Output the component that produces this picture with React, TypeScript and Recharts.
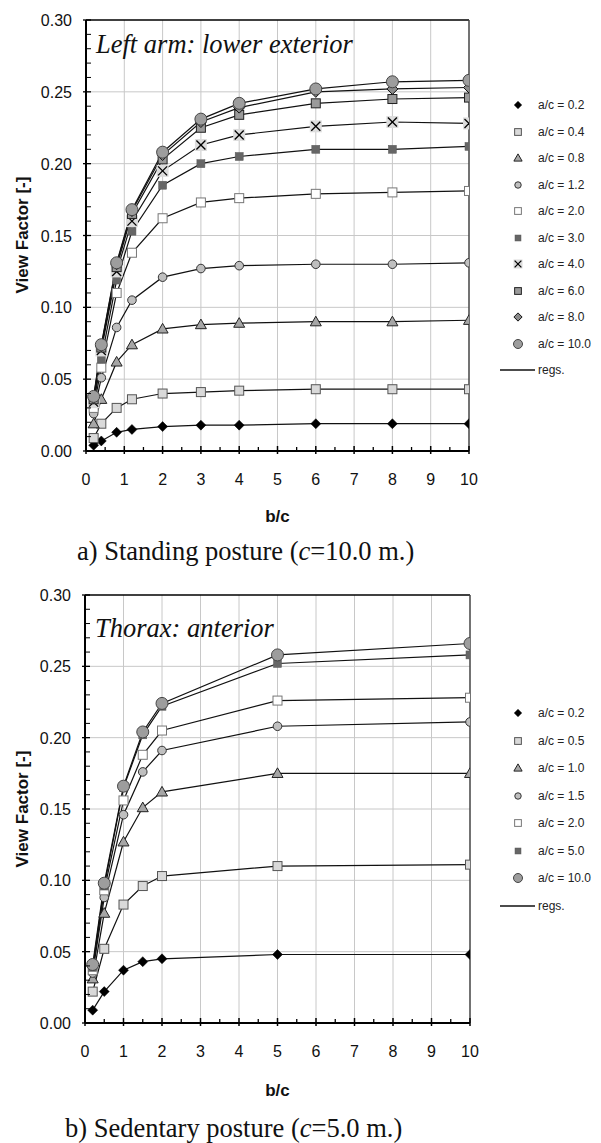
import React from 'react';
import { LineChart, Line, XAxis, YAxis, CartesianGrid, ReferenceLine } from 'recharts';

// ---------- Data: a) Standing posture ----------
const standingBC = [0.2, 0.4, 0.8, 1.2, 2, 3, 4, 6, 8, 10];
const stand_02 = [0.004, 0.007, 0.013, 0.015, 0.017, 0.018, 0.018, 0.019, 0.019, 0.019];
const stand_04 = [0.009, 0.019, 0.030, 0.036, 0.040, 0.041, 0.042, 0.043, 0.043, 0.043];
const stand_08 = [0.019, 0.036, 0.062, 0.074, 0.085, 0.088, 0.089, 0.090, 0.090, 0.091];
const stand_12 = [0.026, 0.051, 0.086, 0.105, 0.121, 0.127, 0.129, 0.130, 0.130, 0.131];
const stand_20 = [0.030, 0.058, 0.110, 0.138, 0.162, 0.173, 0.176, 0.179, 0.180, 0.181];
const stand_30 = [0.033, 0.064, 0.119, 0.153, 0.185, 0.200, 0.205, 0.210, 0.210, 0.212];
const stand_40 = [0.034, 0.070, 0.125, 0.160, 0.195, 0.213, 0.220, 0.226, 0.229, 0.228];
const stand_60 = [0.036, 0.072, 0.128, 0.165, 0.203, 0.225, 0.234, 0.242, 0.245, 0.246];
const stand_80 = [0.037, 0.073, 0.130, 0.167, 0.206, 0.229, 0.239, 0.250, 0.252, 0.253];
const stand_100 = [0.038, 0.074, 0.131, 0.168, 0.208, 0.231, 0.242, 0.252, 0.257, 0.258];
const standingLabels = ['a/c = 0.2', 'a/c = 0.4', 'a/c = 0.8', 'a/c = 1.2', 'a/c = 2.0', 'a/c = 3.0', 'a/c = 4.0', 'a/c = 6.0', 'a/c = 8.0', 'a/c = 10.0'];
const standingTitle = 'Left arm: lower exterior';

// ---------- Data: b) Sedentary posture ----------
const sedentaryBC = [0.2, 0.5, 1, 1.5, 2, 5, 10];
const sed_02 = [0.009, 0.022, 0.037, 0.043, 0.045, 0.048, 0.048];
const sed_05 = [0.022, 0.052, 0.083, 0.096, 0.103, 0.110, 0.111];
const sed_10 = [0.031, 0.077, 0.127, 0.151, 0.162, 0.175, 0.175];
const sed_15 = [0.035, 0.088, 0.146, 0.176, 0.191, 0.208, 0.211];
const sed_20 = [0.037, 0.093, 0.156, 0.188, 0.205, 0.226, 0.228];
const sed_50 = [0.039, 0.096, 0.165, 0.202, 0.222, 0.252, 0.258];
const sed_100 = [0.041, 0.098, 0.166, 0.204, 0.224, 0.258, 0.266];
const sedentaryLabels = ['a/c = 0.2', 'a/c = 0.5', 'a/c = 1.0', 'a/c = 1.5', 'a/c = 2.0', 'a/c = 5.0', 'a/c = 10.0'];
const sedentaryTitle = 'Thorax: anterior';

// ---------- Axis ticks ----------
const xAllTicks = [0, 0.5, 1, 1.5, 2, 2.5, 3, 3.5, 4, 4.5, 5, 5.5, 6, 6.5, 7, 7.5, 8, 8.5, 9, 9.5, 10];
const yAllTicks = Array.from({ length: 31 }, (_, i) => i / 100);
const gridX = [1, 2, 3, 4, 5, 6, 7, 8, 9];
const gridY = [0.05, 0.1, 0.15, 0.2, 0.25];

type Kind =
  | 'diamondBlack' | 'squareLight' | 'triangle' | 'circleSmall' | 'squareWhite'
  | 'squareDark' | 'cross' | 'squareMid' | 'diamondGray' | 'circleBig';

const standingKinds: Kind[] = ['diamondBlack', 'squareLight', 'triangle', 'circleSmall', 'squareWhite', 'squareDark', 'cross', 'squareMid', 'diamondGray', 'circleBig'];
const sedentaryKinds: Kind[] = ['diamondBlack', 'squareLight', 'triangle', 'circleSmall', 'squareWhite', 'squareDark', 'circleBig'];

const standingSeries = [stand_02, stand_04, stand_08, stand_12, stand_20, stand_30, stand_40, stand_60, stand_80, stand_100];
const sedentarySeries = [sed_02, sed_05, sed_10, sed_15, sed_20, sed_50, sed_100];

const SANS = '"Liberation Sans", Arial, sans-serif';
const SERIF = '"Liberation Serif", "Times New Roman", serif';

function Marker({ kind, cx, cy, s = 1 }: { kind: Kind; cx: number; cy: number; s?: number }) {
  if (cx == null || cy == null || isNaN(cx) || isNaN(cy)) return <g />;
  switch (kind) {
    case 'diamondBlack': {
      const r = 5 * s;
      return <polygon points={`${cx},${cy - r} ${cx + r},${cy} ${cx},${cy + r} ${cx - r},${cy}`} fill="#000" stroke="#000" strokeWidth={0.5} />;
    }
    case 'squareLight': {
      const h = 4.5 * s;
      return <rect x={cx - h} y={cy - h} width={2 * h} height={2 * h} fill="#d9d9d9" stroke="#555" strokeWidth={1} />;
    }
    case 'triangle': {
      const r = 5.5 * s;
      return <polygon points={`${cx},${cy - r} ${cx + r},${cy + r * 0.75} ${cx - r},${cy + r * 0.75}`} fill="#a6a6a6" stroke="#222" strokeWidth={1} />;
    }
    case 'circleSmall':
      return <circle cx={cx} cy={cy} r={4.3 * s} fill="#bfbfbf" stroke="#333" strokeWidth={1} />;
    case 'squareWhite': {
      const h = 4.5 * s;
      return <rect x={cx - h} y={cy - h} width={2 * h} height={2 * h} fill="#fff" stroke="#777" strokeWidth={1} />;
    }
    case 'squareDark': {
      const h = 4 * s;
      return <rect x={cx - h} y={cy - h} width={2 * h} height={2 * h} fill="#666" stroke="#5a5a5a" strokeWidth={0.5} />;
    }
    case 'cross': {
      const h = 6 * s;
      const r = 4.5 * s;
      return (
        <g>
          <rect x={cx - h} y={cy - h} width={2 * h} height={2 * h} fill="#dcdcdc" />
          <line x1={cx - r} y1={cy - r} x2={cx + r} y2={cy + r} stroke="#000" strokeWidth={1.3} />
          <line x1={cx - r} y1={cy + r} x2={cx + r} y2={cy - r} stroke="#000" strokeWidth={1.3} />
        </g>
      );
    }
    case 'squareMid': {
      const h = 4.5 * s;
      return <rect x={cx - h} y={cy - h} width={2 * h} height={2 * h} fill="#9a9a9a" stroke="#222" strokeWidth={1} />;
    }
    case 'diamondGray': {
      const r = 5.5 * s;
      return <polygon points={`${cx},${cy - r} ${cx + r},${cy} ${cx},${cy + r} ${cx - r},${cy}`} fill="#8a8a8a" stroke="#111" strokeWidth={1} />;
    }
    case 'circleBig':
      return <circle cx={cx} cy={cy} r={6 * s} fill="#9d9d9d" stroke="#444" strokeWidth={1} />;
  }
  return <g />;
}

function XTick(props: any) {
  const { x, y, payload } = props;
  const v = payload.value;
  const major = Math.abs(v - Math.round(v)) < 1e-6;
  return (
    <g>
      {major ? (
        <>
          <line x1={x} x2={x} y1={y - 5} y2={y + 3} stroke="#000" strokeWidth={1.5} />
          <text x={x} y={y + 34} textAnchor="middle" fontSize={16} fontFamily={SANS} fill="#111">{String(v)}</text>
        </>
      ) : (
        <line x1={x} x2={x} y1={y - 4} y2={y} stroke="#000" strokeWidth={1.3} />
      )}
    </g>
  );
}

function YTick(props: any) {
  const { x, y, payload } = props;
  const v = payload.value;
  const major = Math.abs(v * 20 - Math.round(v * 20)) < 1e-6;
  return (
    <g>
      {major ? (
        <>
          <line x1={x - 3} x2={x + 5} y1={y} y2={y} stroke="#000" strokeWidth={1.3} />
          <text x={x - 14} y={y + 6} textAnchor="end" fontSize={16} fontFamily={SANS} fill="#111">{v.toFixed(2)}</text>
        </>
      ) : (
        <line x1={x} x2={x + 5} y1={y} y2={y} stroke="#000" strokeWidth={1} />
      )}
    </g>
  );
}

function Chart({ bc, series, kinds, top, yAxisWidth, marginRight, plotHeight }: {
  bc: number[]; series: number[][]; kinds: Kind[]; top: number; yAxisWidth: number; marginRight: number; plotHeight: number;
}) {
  const data = bc.map((b, i) => {
    const row: any = { bc: b };
    series.forEach((s, k) => { row['s' + k] = s[i]; });
    return row;
  });
  return (
    <div style={{ position: 'absolute', left: 0, top }}>
      <LineChart width={601} height={20 + plotHeight + 49} data={data} margin={{ top: 20, right: marginRight, bottom: 0, left: 0 }}>
        <CartesianGrid stroke="#c8c8c8" strokeWidth={1} horizontalValues={gridY} verticalValues={gridX} />
        <XAxis
          dataKey="bc" type="number" domain={[0, 10]} ticks={xAllTicks} interval={0}
          height={49} tickSize={0} tickMargin={0} tickLine={false}
          axisLine={{ stroke: '#000', strokeWidth: 2 }} tick={<XTick />} allowDataOverflow
        />
        <YAxis
          type="number" domain={[0, 0.3]} ticks={yAllTicks} interval={0}
          width={yAxisWidth} tickSize={0} tickMargin={0} tickLine={false}
          axisLine={{ stroke: '#000', strokeWidth: 2 }} tick={<YTick />} allowDataOverflow
        />
        <ReferenceLine y={0.3} stroke="#000" strokeWidth={1.5} />
        <ReferenceLine x={10} stroke="#444" strokeWidth={1.5} />
        {series.map((_, k) => (
          <Line
            key={'s' + k}
            dataKey={'s' + k}
            type="linear"
            stroke="#111"
            strokeWidth={1.2}
            isAnimationActive={false}
            activeDot={false}
            dot={(p: any) => <Marker key={`m${k}-${p.index}`} kind={kinds[k]} cx={p.cx} cy={p.cy} />}
          />
        ))}
      </LineChart>
    </div>
  );
}

function Legend({ labels, kinds, top, step }: { labels: string[]; kinds: Kind[]; top: number; step: number }) {
  return (
    <>
      {labels.map((lab, i) => (
        <div key={lab} style={{ position: 'absolute', left: 508, top: top + i * step - 8, height: 16, display: 'flex', alignItems: 'center' }}>
          <svg width={20} height={16} style={{ display: 'block' }}>
            <Marker kind={kinds[i]} cx={10} cy={8} s={0.75} />
          </svg>
          <span style={{ marginLeft: 10, fontFamily: SANS, fontSize: 12, color: '#222', whiteSpace: 'nowrap' }}>{lab}</span>
        </div>
      ))}
      <div style={{ position: 'absolute', left: 500, top: top + labels.length * step - 8, height: 16, display: 'flex', alignItems: 'center' }}>
        <svg width={36} height={16} style={{ display: 'block' }}>
          <line x1={0} x2={35} y1={8} y2={8} stroke="#111" strokeWidth={1.3} />
        </svg>
        <span style={{ marginLeft: 2, fontFamily: SANS, fontSize: 12, color: '#222' }}>regs.</span>
      </div>
    </>
  );
}

function YLabel({ cx, cy }: { cx: number; cy: number }) {
  return (
    <div style={{
      position: 'absolute', left: cx, top: cy, transform: 'translate(-50%, -50%) rotate(-90deg)',
      fontFamily: SANS, fontWeight: 'bold', fontSize: 17, whiteSpace: 'nowrap', color: '#111', lineHeight: '17px',
    }}>View Factor [-]</div>
  );
}

function XLabel({ cx, top }: { cx: number; top: number }) {
  return (
    <div style={{
      position: 'absolute', left: cx, top, transform: 'translateX(-50%)',
      fontFamily: SANS, fontWeight: 'bold', fontSize: 17, lineHeight: '17px', color: '#111',
    }}>b/c</div>
  );
}

export default function App() {
  return (
    <div style={{ position: 'absolute', left: 0, top: 0, width: 601, height: 1143, background: '#fff', overflow: 'hidden' }}>
      {/* a) Standing posture */}
      <Chart bc={standingBC} series={standingSeries} kinds={standingKinds} top={0} yAxisWidth={86} marginRight={132} plotHeight={431} />
      <div style={{ position: 'absolute', left: 96, top: 31, fontFamily: SERIF, fontStyle: 'italic', fontSize: 26.5, lineHeight: '26px', whiteSpace: 'nowrap', color: '#111' }}>{standingTitle}</div>
      <Legend labels={standingLabels} kinds={standingKinds} top={105} step={26.5} />
      <YLabel cx={22} cy={235} />
      <XLabel cx={277.5} top={508} />
      <div style={{ position: 'absolute', left: 77, top: 538, fontFamily: SERIF, fontSize: 26.5, lineHeight: '26px', whiteSpace: 'nowrap', color: '#111' }}>
        a) Standing posture (<i>c</i>=10.0 m.)
      </div>

      {/* b) Sedentary posture */}
      <Chart bc={sedentaryBC} series={sedentarySeries} kinds={sedentaryKinds} top={575} yAxisWidth={85} marginRight={131} plotHeight={428} />
      <div style={{ position: 'absolute', left: 95, top: 615, fontFamily: SERIF, fontStyle: 'italic', fontSize: 26.5, lineHeight: '26px', whiteSpace: 'nowrap', color: '#111' }}>{sedentaryTitle}</div>
      <Legend labels={sedentaryLabels} kinds={sedentaryKinds} top={713} step={27.5} />
      <YLabel cx={22} cy={809} />
      <XLabel cx={277.5} top={1082} />
      <div style={{ position: 'absolute', left: 65, top: 1115, fontFamily: SERIF, fontSize: 26.5, lineHeight: '26px', whiteSpace: 'nowrap', color: '#111' }}>
        b) Sedentary posture (<i>c</i>=5.0 m.)
      </div>
    </div>
  );
}
